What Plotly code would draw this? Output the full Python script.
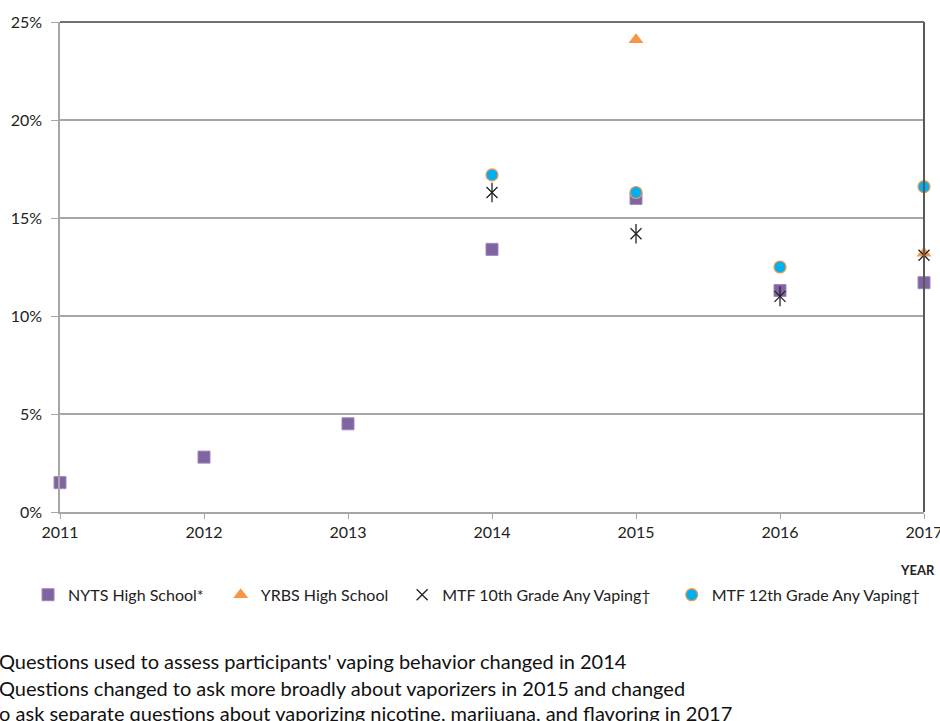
import plotly.graph_objects as go

years = [2011, 2012, 2013, 2014, 2015, 2016, 2017]
nyts = [1.5, 2.8, 4.5, 13.4, 16.0, 11.3, 11.7]
yrbs_years = [2015, 2017]
yrbs = [24.1, 13.2]
mtf_years = [2014, 2015, 2016, 2017]
mtf10 = [16.3, 14.2, 11.0, 13.1]
mtf12 = [17.2, 16.3, 12.5, 16.6]
y_ticks = [0, 5, 10, 15, 20, 25]
y_tick_text = ["0%", "5%", "10%", "15%", "20%", "25%"]
notes = [
    "Questions used to assess participants' vaping behavior changed in 2014",
    "Questions changed to ask more broadly about vaporizers in 2015 and changed",
    "to ask separate questions about vaporizing nicotine, marijuana, and flavoring in 2017",
]

FONT = "Lato, Carlito, 'Liberation Sans Narrow', sans-serif"
purple = "#8064A2"
orange = "#F79646"
blue = "#00B0F0"

fig = go.Figure()
fig.add_trace(go.Scatter(x=years, y=nyts, mode="markers", name="NYTS High School*",
                         marker=dict(symbol="square", size=12, color=purple,
                                     line=dict(color="#9d87bd", width=1)),
                         cliponaxis=False, legend="legend"))
fig.add_trace(go.Scatter(x=yrbs_years, y=yrbs, mode="markers", name="YRBS High School",
                         marker=dict(symbol="triangle-up", size=13, color=orange),
                         cliponaxis=False, legend="legend2"))
fig.add_trace(go.Scatter(x=mtf_years, y=mtf10, mode="markers", name="MTF 10th Grade Any Vaping\u2020",
                         marker=dict(symbol="x-thin-open", size=11, color="#222222",
                                     line=dict(color="#222222", width=1.3)),
                         cliponaxis=False, legend="legend3"))
fig.add_trace(go.Scatter(x=mtf_years, y=mtf10, mode="markers", showlegend=False, hoverinfo="skip",
                         marker=dict(symbol="line-ns-open", size=14, color="#222222",
                                     line=dict(color="#222222", width=1.3)),
                         cliponaxis=False))
fig.add_trace(go.Scatter(x=mtf_years, y=mtf12, mode="markers", name="MTF 12th Grade Any Vaping\u2020",
                         marker=dict(symbol="circle", size=12, color=blue,
                                     line=dict(color=orange, width=1.2)),
                         cliponaxis=False, legend="legend4"))

leg_common = dict(orientation="h", yanchor="middle", y=-0.169, xanchor="left",
                  font=dict(family=FONT, size=16, color="#222222"),
                  bgcolor="rgba(0,0,0,0)", itemwidth=30, tracegroupgap=0)
fig.update_layout(
    legend=dict(x=-0.037, **leg_common),
    legend2=dict(x=0.186, **leg_common),
    legend3=dict(x=0.396, **leg_common),
    legend4=dict(x=0.708, **leg_common),
)

fig.update_xaxes(range=[2011, 2017], tickvals=years, ticktext=[str(y) for y in years],
                 showgrid=False, zeroline=False, showline=True, linecolor="#A6A6A6", linewidth=1.5,
                 ticks="outside", ticklen=5, tickcolor="#A6A6A6", ticklabeloverflow="allow",
                 automargin=False,
                 tickfont=dict(family=FONT, size=16, color="#222222"))
fig.update_yaxes(range=[0, 25], tickvals=y_ticks, ticktext=y_tick_text,
                 showgrid=True, gridcolor="#A6A6A6", gridwidth=1.5, zeroline=False,
                 showline=True, linecolor="#A6A6A6", linewidth=1.5, automargin=False,
                 ticks="outside", ticklen=7, tickcolor="#A6A6A6", ticklabelstandoff=6,
                 tickfont=dict(family=FONT, size=16, color="#222222"))

# frame lines (top and right)
fig.add_shape(type="line", xref="paper", yref="paper", x0=0, x1=1, y0=1, y1=1,
              line=dict(color="#404040", width=1.5))
fig.add_shape(type="line", xref="paper", yref="paper", x0=1, x1=1, y0=0, y1=1,
              line=dict(color="#595959", width=2))

fig.add_annotation(text="<b>YEAR</b>", xref="paper", yref="paper", x=0.993, y=-0.118,
                   xanchor="center", yanchor="middle", showarrow=False,
                   font=dict(family=FONT, size=13, color="#222222"))

note_y = [661, 688, 713]
note_x = [-3, -3, -10]
for txt, py, px in zip(notes, note_y, note_x):
    fig.add_annotation(text=txt, xref="paper", yref="paper",
                       x=0, xshift=px - 60, y=(512 - py) / 490,
                       xanchor="left", yanchor="middle", showarrow=False,
                       font=dict(family=FONT, size=20, color="#111111"))

fig.update_layout(width=940, height=721, margin=dict(l=60, r=16, t=22, b=209, autoexpand=False),
                  plot_bgcolor="white", paper_bgcolor="white", showlegend=True)

fig.write_html("out.html", config={"displayModeBar": False},
               post_script="document.body.style.margin='0px';document.body.style.overflow='hidden';")
